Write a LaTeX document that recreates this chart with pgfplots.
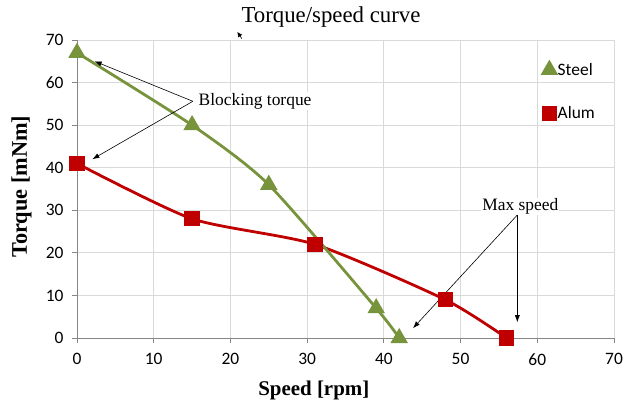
\documentclass[border=0pt]{standalone}
\usepackage{fontspec}
\setmainfont{Liberation Serif}
\newfontfamily\calfont{Carlito}
\newcommand\tickfont{\fontsize{17.5}{20}\selectfont\calfont}
\usepackage{pgfplots}
\pgfplotsset{compat=1.18}
\usetikzlibrary{arrows.meta}
\definecolor{steel}{RGB}{119,147,60}
\definecolor{alum}{RGB}{192,0,0}
\definecolor{gridc}{RGB}{217,217,217}
\definecolor{axc}{RGB}{134,134,134}
\begin{document}
\begin{tikzpicture}
\path[use as bounding box] (-77bp,-65bp) rectangle (547bp,338bp);
\begin{axis}[
  at={(0,0)}, anchor=south west,
  scale only axis, width=537bp, height=298bp,
  xmin=0, xmax=70, ymin=0, ymax=70,
  xtick={0,10,...,70}, ytick={0,10,...,70},
  axis x line*=bottom, axis y line*=left,
  axis line style={draw=axc, line width=0.8bp, -},
  grid=major, major grid style={draw=gridc, line width=0.8bp},
  tick align=outside, major tick length=5bp,
  tick style={draw=axc, line width=0.8bp},
  /pgf/number format/assume math mode=true,
  xticklabel style={font=\tickfont, text=black, yshift=-7bp},
  yticklabel style={font=\tickfont, text=black, xshift=-5bp},
  clip=false,
  reverse legend,
  legend image code/.code={\draw[#1, only marks] plot coordinates {(0bp,0bp)};},
  legend style={at={(rel axis cs:0.862,0.937)}, anchor=north west, draw=none, fill=none,
    font=\tickfont, row sep=26bp},
  legend cell align=left,
]
\addplot[alum, line width=2.8bp, smooth, tension=0.4, mark=square*, mark size=6.3bp,
  mark options={solid, fill=alum, draw=alum}]
  coordinates {(0,41) (15,28) (31,22) (48,9) (56,0)};
\addlegendentry{Alum}
\addplot[steel, line width=2.8bp, smooth, tension=0.4, mark=triangle*, mark size=7.3bp,
  mark options={solid, fill=steel, draw=steel}]
  coordinates {(0,67) (15,50) (25,36) (39,7) (42,0)};
\addlegendentry{Steel}

\draw[-{Latex[length=7bp,width=5bp]}, line width=0.6bp] (axis cs:15.1,55.6) -- (axis cs:2.3,65.0);
\draw[-{Latex[length=7bp,width=5bp]}, line width=0.6bp] (axis cs:15.1,55.6) -- (axis cs:2.0,42.0);
\node[anchor=west, inner sep=1bp, fill=white, font=\fontsize{17.5}{20}\selectfont] at (axis cs:15.7,55.6) {Blocking torque};

\draw[-{Latex[length=7bp,width=5bp]}, line width=0.6bp] (axis cs:57.4,28.9) -- (axis cs:43.8,2.3);
\draw[-{Latex[length=7bp,width=5bp]}, line width=0.6bp] (axis cs:57.4,28.9) -- (axis cs:57.4,3.7);
\node[inner sep=1bp, fill=white, font=\fontsize{17.5}{20}\selectfont] at (axis cs:57.8,30.9) {Max speed};

\draw[-{Latex[length=5bp,width=5bp]}, line width=0.6bp] (axis cs:21.5,70.3) -- (axis cs:20.9,71.9);

\node[anchor=base, font=\fontsize{22.9}{26}\selectfont] at (rel axis cs:0.473,1) [yshift=17bp] {Torque/speed curve};
\node[anchor=base, font=\bfseries\fontsize{21}{24}\selectfont] at (rel axis cs:0.441,0) [yshift=-57bp] {Speed [rpm]};
\node[anchor=base, rotate=90, font=\bfseries\fontsize{22.4}{26}\selectfont] at ([xshift=-50bp]rel axis cs:0,0.508) {Torque [mNm]};
\end{axis}
\end{tikzpicture}
\end{document}
